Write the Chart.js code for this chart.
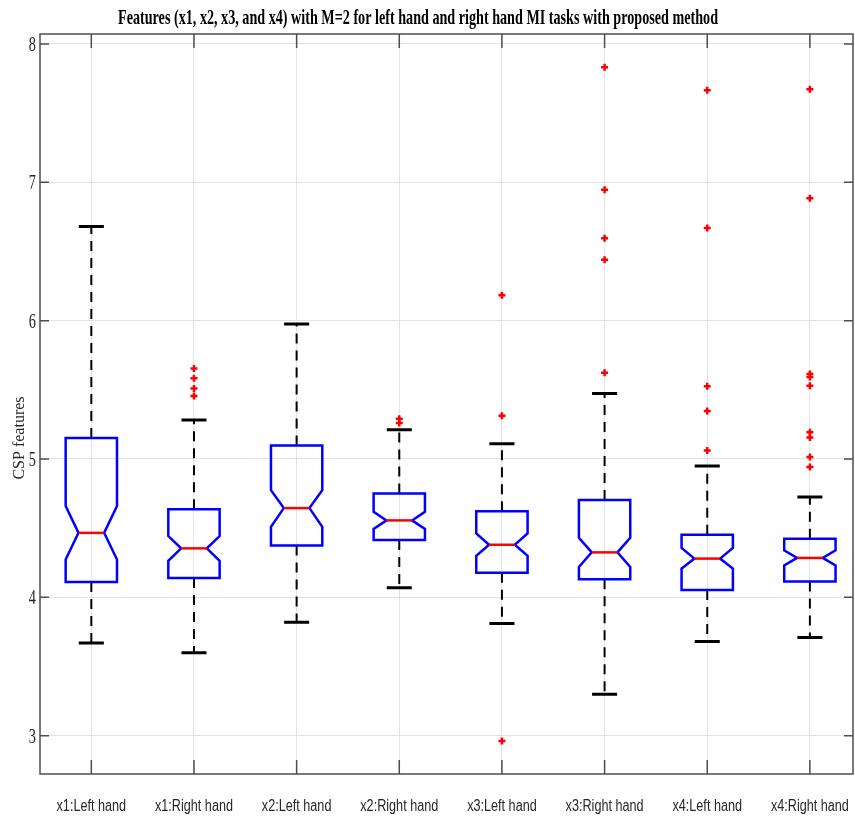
<!DOCTYPE html>
<html>
<head>
<meta charset="utf-8">
<script src="https://cdn.jsdelivr.net/npm/chart.js@4/dist/chart.umd.min.js"></script>
<style>
  body { margin: 0; background: #fff; }
  #wrap { width: 855px; height: 818px; }
</style>
</head>
<body>
<div id="wrap"><canvas id="myChart" width="855" height="818"></canvas></div>
<script>
// ===== data
const categories = ['x1:Left hand', 'x1:Right hand', 'x2:Left hand', 'x2:Right hand',
                    'x3:Left hand', 'x3:Right hand', 'x4:Left hand', 'x4:Right hand']
const whiskerLow  = [3.67, 3.60, 3.82, 4.07, 3.81, 3.30, 3.68, 3.71]
const q1          = [4.11, 4.14, 4.375, 4.415, 4.177, 4.13, 4.053, 4.114]
const medians     = [4.466, 4.354, 4.645, 4.556, 4.38, 4.325, 4.28, 4.285]
const q3          = [5.152, 4.636, 5.098, 4.751, 4.623, 4.703, 4.452, 4.424]
const whiskerHigh = [6.68, 5.281, 5.975, 5.211, 5.11, 5.474, 4.95, 4.726]
const notchLow    = [4.274, 4.264, 4.51, 4.495, 4.30, 4.22, 4.208, 4.23]
const notchHigh   = [4.66, 4.443, 4.775, 4.618, 4.462, 4.43, 4.357, 4.34]
const outliers = [
  [],
  [5.655, 5.583, 5.51, 5.455],
  [],
  [5.26, 5.29],
  [6.183, 5.312, 2.962],
  [7.831, 6.946, 6.595, 6.44, 5.623],
  [7.665, 6.67, 5.526, 5.346, 5.061],
  [7.673, 6.884, 5.615, 5.593, 5.529, 5.194, 5.155, 5.014, 4.942]
]
const yTicks = [3, 4, 5, 6, 7, 8]
const titleText = 'Features (x1, x2, x3, and x4) with M=2 for left hand and right hand MI tasks with proposed method'
const yTitle = 'CSP features'

const outlierPoints = []
outliers.forEach((list, i) => list.forEach(v => outlierPoints.push({ x: i + 1, y: v })))

// squeezed text, like the matlab export
function squeezeText(ctx, text, x, y, font, sx, align) {
  ctx.save()
  ctx.font = font
  ctx.textAlign = align
  ctx.translate(x, y)
  ctx.scale(sx, 1)
  ctx.fillText(text, 0, 0)
  ctx.restore()
}

const boxPlugin = {
  id: 'boxes',
  beforeDatasetsDraw(chart) {
    const ctx = chart.ctx
    const xs = chart.scales.x
    const ys = chart.scales.y
    const a = chart.chartArea
    const half = 0.25
    ctx.save()
    ctx.beginPath()
    ctx.rect(a.left, a.top, a.right - a.left, a.bottom - a.top)
    ctx.clip()
    categories.forEach((c, i) => {
      const cx = xs.getPixelForValue(i + 1)
      const xl = xs.getPixelForValue(i + 1 - half)
      const xr = xs.getPixelForValue(i + 1 + half)
      const nl = xs.getPixelForValue(i + 1 - half / 2)
      const nr = xs.getPixelForValue(i + 1 + half / 2)
      const capL = xs.getPixelForValue(i + 1 - 0.122)
      const capR = xs.getPixelForValue(i + 1 + 0.122)
      // whiskers
      ctx.strokeStyle = '#000'
      ctx.lineWidth = 2
      ctx.setLineDash([10, 7])
      ctx.beginPath()
      ctx.moveTo(cx, ys.getPixelForValue(q3[i]))
      ctx.lineTo(cx, ys.getPixelForValue(whiskerHigh[i]))
      ctx.moveTo(cx, ys.getPixelForValue(q1[i]))
      ctx.lineTo(cx, ys.getPixelForValue(whiskerLow[i]))
      ctx.stroke()
      ctx.setLineDash([])
      ctx.lineWidth = 3
      ctx.beginPath()
      ctx.moveTo(capL, ys.getPixelForValue(whiskerHigh[i]))
      ctx.lineTo(capR, ys.getPixelForValue(whiskerHigh[i]))
      ctx.moveTo(capL, ys.getPixelForValue(whiskerLow[i]))
      ctx.lineTo(capR, ys.getPixelForValue(whiskerLow[i]))
      ctx.stroke()
      // notched box
      ctx.strokeStyle = '#0000ff'
      ctx.lineWidth = 2.5
      ctx.lineJoin = 'miter'
      ctx.beginPath()
      ctx.moveTo(xl, ys.getPixelForValue(q1[i]))
      ctx.lineTo(xl, ys.getPixelForValue(notchLow[i]))
      ctx.lineTo(nl, ys.getPixelForValue(medians[i]))
      ctx.lineTo(xl, ys.getPixelForValue(notchHigh[i]))
      ctx.lineTo(xl, ys.getPixelForValue(q3[i]))
      ctx.lineTo(xr, ys.getPixelForValue(q3[i]))
      ctx.lineTo(xr, ys.getPixelForValue(notchHigh[i]))
      ctx.lineTo(nr, ys.getPixelForValue(medians[i]))
      ctx.lineTo(xr, ys.getPixelForValue(notchLow[i]))
      ctx.lineTo(xr, ys.getPixelForValue(q1[i]))
      ctx.closePath()
      ctx.stroke()
      // median
      ctx.strokeStyle = '#ff0000'
      ctx.beginPath()
      ctx.moveTo(nl, ys.getPixelForValue(medians[i]))
      ctx.lineTo(nr, ys.getPixelForValue(medians[i]))
      ctx.stroke()
    })
    ctx.restore()
  },
  afterDraw(chart) {
    const ctx = chart.ctx
    const xs = chart.scales.x
    const ys = chart.scales.y
    const a = chart.chartArea
    ctx.save()
    // frame + inward ticks
    ctx.strokeStyle = '#4d4d4d'
    ctx.lineWidth = 1.5
    ctx.strokeRect(a.left, a.top, a.right - a.left, a.bottom - a.top)
    ctx.beginPath()
    xs.ticks.forEach(t => {
      const px = xs.getPixelForValue(t.value)
      ctx.moveTo(px, a.bottom); ctx.lineTo(px, a.bottom - 14)
      ctx.moveTo(px, a.top); ctx.lineTo(px, a.top + 14)
    })
    ys.ticks.forEach(t => {
      const py = ys.getPixelForValue(t.value)
      ctx.moveTo(a.left, py); ctx.lineTo(a.left + 9, py)
      ctx.moveTo(a.right, py); ctx.lineTo(a.right - 9, py)
    })
    ctx.stroke()
    // labels
    ctx.fillStyle = '#262626'
    ctx.textBaseline = 'alphabetic'
    xs.ticks.forEach((t, i) => {
      squeezeText(ctx, categories[i], xs.getPixelForValue(t.value), 811,
        '16px "Liberation Sans"', 0.79, 'center')
    })
    ys.ticks.forEach(t => {
      squeezeText(ctx, String(t.value), 36, ys.getPixelForValue(t.value) + 7,
        '21px "Liberation Serif"', 0.68, 'right')
    })
    // y title
    ctx.save()
    ctx.translate(24, 438)
    ctx.rotate(-Math.PI / 2)
    ctx.font = '16px "Liberation Serif"'
    ctx.textAlign = 'center'
    ctx.fillText(yTitle, 0, 0)
    ctx.restore()
    // title
    ctx.fillStyle = '#000'
    ctx.font = 'bold 22px "Liberation Serif"'
    const w = ctx.measureText(titleText).width
    squeezeText(ctx, titleText, 418, 24, 'bold 22px "Liberation Serif"', 600 / w, 'center')
    ctx.restore()
  }
}

const ctx = document.getElementById('myChart')

new Chart(ctx, {
  type: 'scatter',
  data: {
    datasets: [{
      label: 'outliers',
      data: outlierPoints,
      pointStyle: 'cross',
      pointRadius: 3.5,
      pointBorderWidth: 2.5,
      borderColor: '#ff0000',
      backgroundColor: '#ff0000'
    }]
  },
  options: {
    responsive: false,
    animation: false,
    layout: { autoPadding: false, padding: { top: 34, right: 2, left: 0, bottom: 0 } },
    plugins: { legend: { display: false }, tooltip: { enabled: false }, title: { display: false } },
    scales: {
      x: {
        type: 'linear',
        min: 0.5,
        max: 8.42,
        afterBuildTicks: s => { s.ticks = categories.map((c, i) => ({ value: i + 1 })) },
        afterFit: s => { s.height = 44; s.paddingLeft = 0; s.paddingRight = 0 },
        ticks: { display: false },
        grid: { color: '#e3e3e3', lineWidth: 1, drawTicks: false },
        border: { display: false }
      },
      y: {
        min: 2.723,
        max: 8.072,
        afterBuildTicks: s => { s.ticks = yTicks.map(v => ({ value: v })) },
        afterFit: s => { s.width = 40; s.paddingTop = 0; s.paddingBottom = 0 },
        ticks: { display: false },
        grid: { color: '#e3e3e3', lineWidth: 1, drawTicks: false },
        border: { display: false }
      }
    }
  },
  plugins: [boxPlugin]
})
</script>
</body>
</html>
